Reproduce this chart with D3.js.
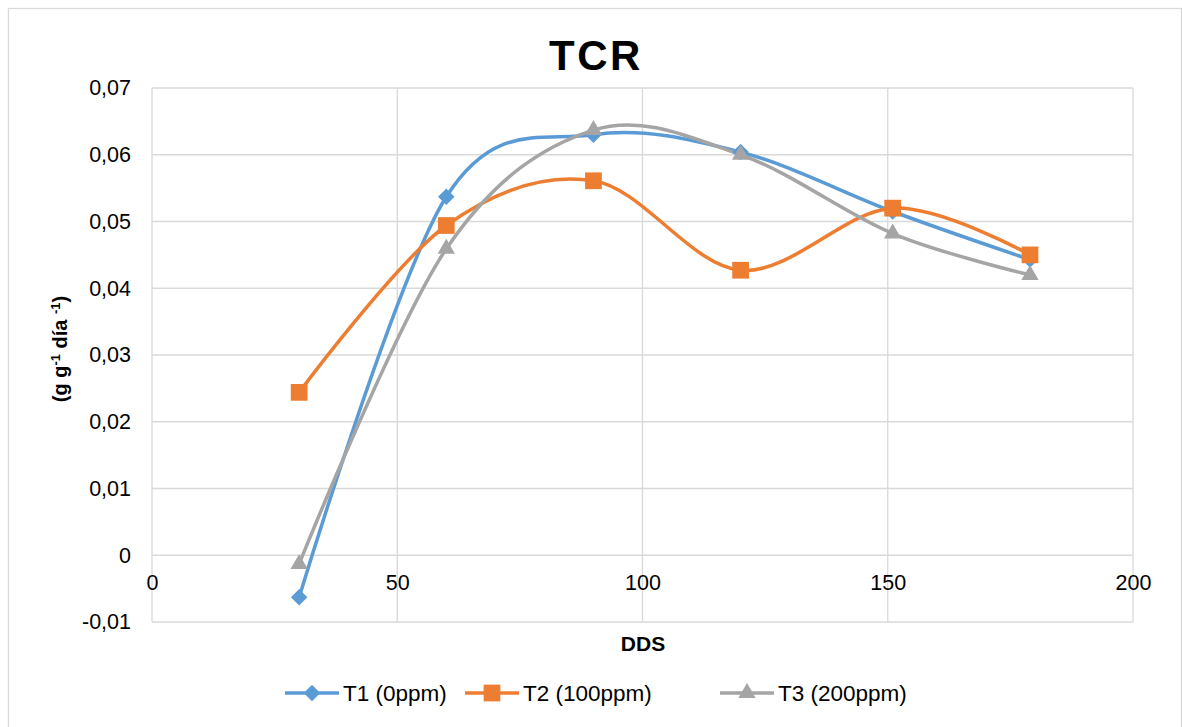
<!DOCTYPE html>
<html>
<head>
<meta charset="utf-8">
<script src="https://cdnjs.cloudflare.com/ajax/libs/d3/7.8.5/d3.min.js"></script>
<style>
body { margin: 0; background: #fff; font-family: "Liberation Sans", Arial, sans-serif; }
.grid line { stroke: #d9d9d9; stroke-width: 1.3; }
.tick text { font-size: 21.5px; fill: #000; font-family: "Liberation Sans", Arial, sans-serif; }
</style>
</head>
<body>
<div id="chart"></div>
<script>
// data
var dds = [30, 60, 90, 120, 151, 179];
var t1 = [-0.0063, 0.0537, 0.0630, 0.0604, 0.0515, 0.0443];
var t2 = [0.0244, 0.0494, 0.0561, 0.0427, 0.0520, 0.0450];
var t3 = [-0.0013, 0.0459, 0.0637, 0.0600, 0.0482, 0.0420];
var seriesNames = ['T1 (0ppm)', 'T2 (100ppm)', 'T3 (200ppm)'];
var colors = ['#5b9bd5', '#ed7d31', '#a5a5a5'];
var xTicks = [0, 50, 100, 150, 200];
var yTicks = [-0.01, 0, 0.01, 0.02, 0.03, 0.04, 0.05, 0.06, 0.07];

var W = 1182, H = 727;
var margin = { top: 88, left: 152, right: 49, bottom: 105 },
    width = W - margin.left - margin.right,
    height = H - margin.top - margin.bottom;

var root = d3.select('#chart').append('svg')
    .attr('width', W)
    .attr('height', H);

// outer chart border
root.append('rect')
    .attr('x', 8.5).attr('y', 8.5)
    .attr('width', W - 9).attr('height', H)
    .attr('fill', '#fff')
    .attr('stroke', '#d9d9d9')
    .attr('stroke-width', 1.3);

var svg = root.append('g')
    .attr('transform', 'translate(' + margin.left + ',' + margin.top + ')');

var x = d3.scaleLinear().domain([0, 200]).range([0, width]);
var y = d3.scaleLinear().domain([-0.01, 0.07]).range([height, 0]);

var fmt = function (d) {
    if (Math.abs(d) < 1e-9) return '0';
    return (d < 0 ? '-' : '') + Math.abs(d).toFixed(2).replace('.', ',');
};

// gridlines
svg.append('g').attr('class', 'grid')
    .selectAll('line').data(yTicks).enter().append('line')
    .attr('x1', 0).attr('x2', width)
    .attr('y1', d => y(d)).attr('y2', d => y(d));
svg.append('g').attr('class', 'grid')
    .selectAll('line').data(xTicks).enter().append('line')
    .attr('y1', 0).attr('y2', height)
    .attr('x1', d => x(d)).attr('x2', d => x(d));

// y axis labels
var yAxis = d3.axisLeft(y).tickValues(yTicks).tickSize(0).tickPadding(21)
    .tickFormat(fmt);
svg.append('g').call(yAxis).call(g => g.select('.domain').remove());

// x axis labels sit under the zero line
var xAxis = d3.axisBottom(x).tickValues(xTicks).tickSize(0).tickPadding(19);
svg.append('g')
    .attr('transform', 'translate(0,' + y(0) + ')')
    .call(xAxis).call(g => g.select('.domain').remove());

// markers: diamond (rotated square), square, triangle
function marker(sel, i) {
    if (i === 0) {
        sel.attr('d', d3.symbol().type(d3.symbolSquare).size(135)())
           .attr('transform', function () { return d3.select(this).attr('transform') + ' rotate(45)'; });
    } else if (i === 1) {
        sel.attr('d', d3.symbol().type(d3.symbolSquare).size(280)());
    } else {
        sel.attr('d', d3.symbol().type(d3.symbolTriangle).size(130)());
    }
    sel.attr('fill', colors[i]);
}

// series
var all = [t1, t2, t3];
var line = d3.line()
    .x(d => x(d[0]))
    .y(d => y(d[1]))
    .curve(d3.curveCardinal.tension(0));

all.forEach(function (vals, i) {
    var pts = dds.map((d, j) => [d, vals[j]]);
    svg.append('path')
        .datum(pts)
        .attr('fill', 'none')
        .attr('stroke', colors[i])
        .attr('stroke-width', 3.5)
        .attr('stroke-linejoin', 'round')
        .attr('d', line);
});
all.forEach(function (vals, i) {
    var pts = dds.map((d, j) => [d, vals[j]]);
    svg.selectAll('.m' + i).data(pts).enter().append('path')
        .attr('class', 'm' + i)
        .attr('transform', d => 'translate(' + x(d[0]) + ',' + y(d[1]) + ')')
        .call(marker, i);
});

// title
root.append('text')
    .attr('x', 596).attr('y', 70)
    .attr('text-anchor', 'middle')
    .style('font-size', '42px').style('font-weight', 'bold')
    .style('letter-spacing', '2.5px')
    .text('TCR');

// x title
root.append('text')
    .attr('x', 643).attr('y', 651)
    .attr('text-anchor', 'middle')
    .style('font-size', '21px').style('font-weight', 'bold')
    .text('DDS');

// y title
var yt = root.append('text')
    .attr('transform', 'translate(67,349) rotate(-90)')
    .attr('text-anchor', 'middle')
    .style('font-size', '20px').style('font-weight', 'bold');
yt.append('tspan').text('(g g');
yt.append('tspan').attr('dy', -7).style('font-size', '13px').text('-1');
yt.append('tspan').attr('dy', 7).text(' día ');
yt.append('tspan').attr('dy', -7).style('font-size', '13px').text('-1');
yt.append('tspan').attr('dy', 7).text(')');

// legend
var legX = [285, 465, 720];
var leg = root.selectAll('.leg').data(seriesNames).enter().append('g')
    .attr('class', 'leg')
    .attr('transform', (d, i) => 'translate(' + legX[i] + ',693)');
leg.append('line')
    .attr('x1', 0).attr('x2', 54)
    .attr('stroke', (d, i) => colors[i])
    .attr('stroke-width', 3.5);
leg.each(function (d, i) {
    d3.select(this).append('path')
        .attr('transform', 'translate(27,0)')
        .call(marker, i);
});
leg.append('text')
    .attr('x', 58).attr('y', 8)
    .style('font-size', '22.5px')
    .text(d => d);
</script>
</body>
</html>
